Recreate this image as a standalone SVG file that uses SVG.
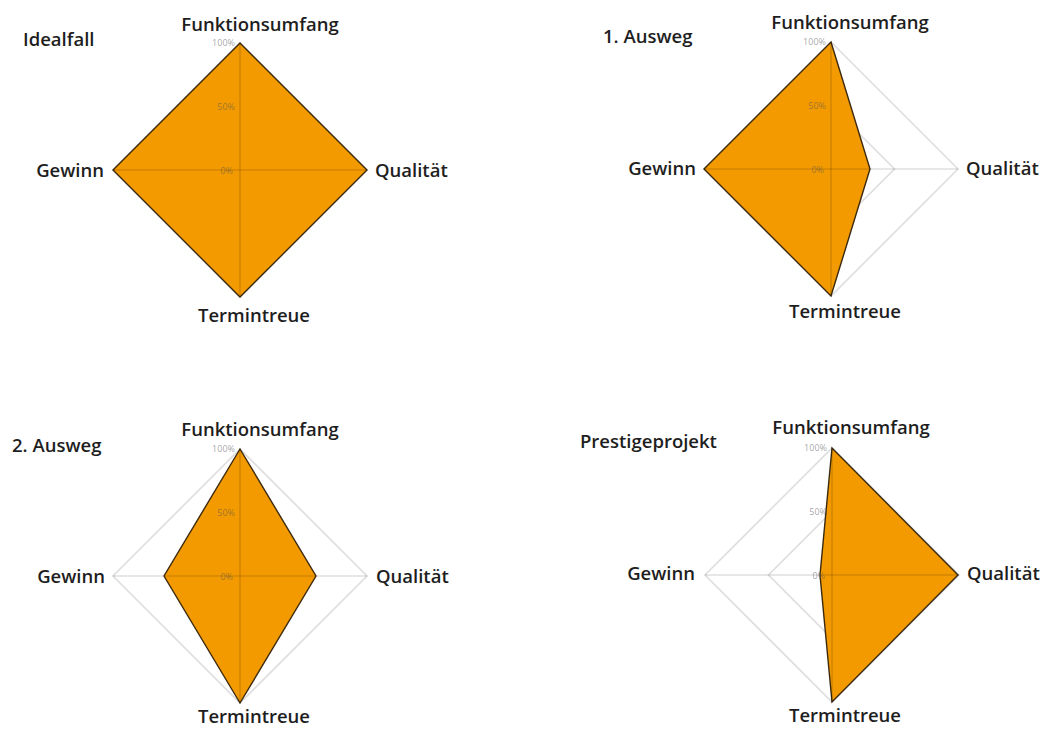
<svg xmlns="http://www.w3.org/2000/svg" width="1040" height="729" viewBox="0 0 1040 729">
<style>
.lbl{font-family:"Open Sans","Liberation Sans",sans-serif;font-size:18.5px;font-weight:600;fill:#1e1e1e;}
.tick{font-family:"Open Sans","Liberation Sans",sans-serif;font-size:9px;fill:#555;fill-opacity:0.55;text-anchor:end;}
.rung{fill:none;stroke:#dedede;stroke-width:1.6;}
.axis{stroke:#000;stroke-opacity:0.13;stroke-width:1.6;fill:none;}
.area{fill:#f39a00;stroke:#3c2a0e;stroke-width:1.4;stroke-linejoin:miter;}
.mid{text-anchor:middle;}
.end{text-anchor:end;}
</style>
<rect width="1040" height="729" fill="#ffffff"/>

<!-- Chart 1: Idealfall, center (240,170) R=127 -->
<g id="chart-idealfall">
  <g id="grid-1">
    <polygon class="rung" points="240,43 367,170 240,297 113,170"/>
    <polygon class="rung" points="240,106.5 303.5,170 240,233.5 176.5,170"/>
  </g>
  <polygon class="area" points="240,43 367,170 240,297 113,170"/>
  <g id="axes-1">
    <line class="axis" x1="240" y1="43" x2="240" y2="297"/>
    <line class="axis" x1="113" y1="170" x2="367" y2="170"/>
  </g>
  <text class="tick" x="235" y="46">100%</text>
  <text class="tick" x="235" y="110">50%</text>
  <text class="tick" x="233" y="174">0%</text>
  <text class="lbl" x="23" y="46">Idealfall</text>
  <text class="lbl mid" x="260" y="31">Funktionsumfang</text>
  <text class="lbl end" x="104" y="177">Gewinn</text>
  <text class="lbl" x="375" y="177">Qualität</text>
  <text class="lbl mid" x="254" y="322">Termintreue</text>
</g>

<!-- Chart 2: 1. Ausweg, center (831,169) -->
<g id="chart-ausweg1">
  <g id="grid-2">
    <polygon class="rung" points="831,42 958,169 831,296 704,169"/>
    <polygon class="rung" points="831,105.5 894.5,169 831,232.5 767.5,169"/>
  </g>
  <polygon class="area" points="831,42 870,169 831,296 704,169"/>
  <g id="axes-2">
    <line class="axis" x1="831" y1="42" x2="831" y2="296"/>
    <line class="axis" x1="704" y1="169" x2="958" y2="169"/>
  </g>
  <text class="tick" x="826" y="45">100%</text>
  <text class="tick" x="826" y="109">50%</text>
  <text class="tick" x="824" y="173">0%</text>
  <text class="lbl" x="603" y="43">1. Ausweg</text>
  <text class="lbl mid" x="850" y="29">Funktionsumfang</text>
  <text class="lbl end" x="696" y="175">Gewinn</text>
  <text class="lbl" x="966" y="175">Qualität</text>
  <text class="lbl mid" x="845" y="318">Termintreue</text>
</g>

<!-- Chart 3: 2. Ausweg, center (240,576) -->
<g id="chart-ausweg2">
  <g id="grid-3">
    <polygon class="rung" points="240,449 367,576 240,703 113,576"/>
    <polygon class="rung" points="240,512.5 303.5,576 240,639.5 176.5,576"/>
  </g>
  <polygon class="area" points="240,449 316,576 240,703 164,576"/>
  <g id="axes-3">
    <line class="axis" x1="240" y1="449" x2="240" y2="703"/>
    <line class="axis" x1="113" y1="576" x2="367" y2="576"/>
  </g>
  <text class="tick" x="235" y="452">100%</text>
  <text class="tick" x="235" y="516">50%</text>
  <text class="tick" x="233" y="580">0%</text>
  <text class="lbl" x="12" y="452">2. Ausweg</text>
  <text class="lbl mid" x="260" y="436">Funktionsumfang</text>
  <text class="lbl end" x="105" y="583">Gewinn</text>
  <text class="lbl" x="376" y="583">Qualität</text>
  <text class="lbl mid" x="254" y="723">Termintreue</text>
</g>

<!-- Chart 4: Prestigeprojekt, center (832,575) -->
<g id="chart-prestige">
  <g id="grid-4">
    <polygon class="rung" points="832,448 959,575 832,702 705,575"/>
    <polygon class="rung" points="832,511.5 895.5,575 832,638.5 768.5,575"/>
  </g>
  <polygon class="area" points="832,448 958,575 832,702 820,575"/>
  <g id="axes-4">
    <line class="axis" x1="832" y1="448" x2="832" y2="702"/>
    <line class="axis" x1="705" y1="575" x2="959" y2="575"/>
  </g>
  <text class="tick" x="827" y="451">100%</text>
  <text class="tick" x="827" y="515">50%</text>
  <text class="tick" x="825" y="579">0%</text>
  <text class="lbl" x="580" y="448">Prestigeprojekt</text>
  <text class="lbl mid" x="851" y="434">Funktionsumfang</text>
  <text class="lbl end" x="695" y="580">Gewinn</text>
  <text class="lbl" x="967" y="580">Qualität</text>
  <text class="lbl mid" x="845" y="722">Termintreue</text>
</g>
</svg>
